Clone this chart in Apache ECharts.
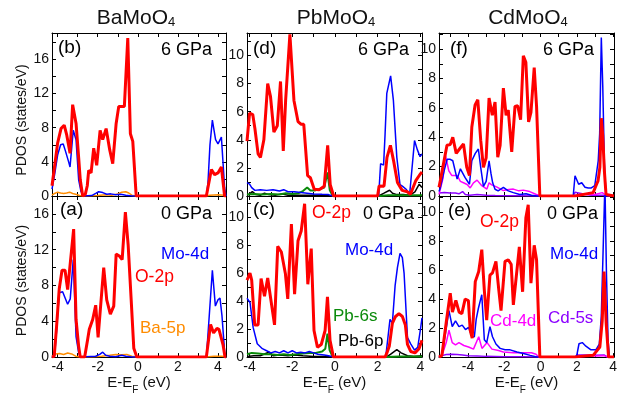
<!DOCTYPE html>
<html>
<head>
<meta charset="utf-8">
<script src="https://cdn.jsdelivr.net/npm/echarts@6/dist/echarts.min.js"></script>
<style>
  html, body { margin: 0; padding: 0; background: #fff; }
  #chart { width: 636px; height: 396px; }
</style>
</head>
<body>
<div id="chart"></div>
<script>
// ---- data: [E-EF (eV), PDOS (states/eV)] ----
// BaMoO4, 6 GPa
const baO6 = [[-4.28,1.2],[-4.15,3.5],[-4.0,6.2],[-3.83,7.9],[-3.67,8.3],[-3.55,7.2],[-3.38,5.0],[-3.25,10.7],[-3.08,8.5],[-2.95,4.5],[-2.87,1.9],[-2.75,0],[-2.62,0.2],[-2.52,1.2],[-2.45,3.0],[-2.33,2.7],[-2.2,5.6],[-2.05,3.6],[-1.88,7.7],[-1.75,6.6],[-1.58,7.9],[-1.4,5.4],[-1.25,3.8],[-1.08,8.5],[-0.95,10.5],[-0.83,10.5],[-0.67,10.5],[-0.5,18.5],[-0.37,7.3],[-0.25,6.4],[-0.08,0],[3.42,0],[3.67,3.1],[3.83,2.5],[4.0,2.7],[4.17,3.4],[4.33,0],[4.4,0]];
const baMo6 = [[-4.28,0.8],[-4.15,2.5],[-4.0,4.8],[-3.85,6.0],[-3.72,6.1],[-3.6,5.2],[-3.45,4.0],[-3.38,3.4],[-3.22,7.7],[-3.08,6.6],[-2.95,1.9],[-2.83,0.5],[-2.7,0],[-2.3,0.05],[-2.1,0.3],[-1.95,0.5],[-1.75,0.4],[-1.55,0.2],[-1.35,0.25],[-1.1,0.15],[-0.85,0.2],[-0.6,0.1],[-0.3,0],[3.42,0],[3.5,1.5],[3.6,6.0],[3.72,8.9],[3.88,6.6],[4.0,6.1],[4.17,6.9],[4.33,1.0],[4.4,0]];
const baBa6 = [[-4.28,0.1],[-4.15,0.3],[-4.0,0.45],[-3.85,0.35],[-3.7,0.3],[-3.55,0.35],[-3.4,0.45],[-3.25,0.3],[-3.1,0.2],[-2.9,0.05],[-2.7,0],[-2.0,0.05],[-1.6,0.15],[-1.3,0.1],[-1.0,0.25],[-0.8,0.45],[-0.6,0.5],[-0.45,0.35],[-0.3,0.1],[-0.1,0],[3.4,0],[3.6,0.1],[4.0,0.15],[4.3,0.1],[4.4,0]];
// BaMoO4, 0 GPa
const baO0 = [[-4.28,0],[-4.17,0.1],[-4.05,3.5],[-3.92,7.6],[-3.78,9.7],[-3.63,9.7],[-3.5,7.55],[-3.2,14.3],[-3.08,4.2],[-2.95,1.2],[-2.87,0],[-2.65,0],[-2.5,2.0],[-2.42,3.1],[-2.25,4.2],[-2.1,5.8],[-1.98,2.2],[-1.7,10.0],[-1.55,6.4],[-1.37,4.8],[-1.2,5.7],[-1.08,11.5],[-0.92,11.3],[-0.78,10.9],[-0.62,16.2],[-0.48,12.5],[-0.33,6.4],[-0.2,1.0],[-0.05,0],[3.42,0],[3.63,3.65],[3.78,2.7],[3.95,3.2],[4.05,3.1],[4.25,1.4],[4.35,0],[4.4,0]];
const baMo0 = [[-4.28,0],[-4.15,0.2],[-4.05,3.0],[-3.92,7.2],[-3.75,7.3],[-3.5,5.9],[-3.37,6.5],[-3.22,10.9],[-3.08,2.3],[-2.95,0.5],[-2.85,0],[-2.1,0.1],[-1.9,0.3],[-1.75,0.55],[-1.6,0.2],[-1.4,0.1],[-1.1,0.05],[-0.8,0.2],[-0.6,0.1],[-0.3,0],[3.42,0],[3.5,2.5],[3.72,9.7],[3.87,5.7],[4.0,6.4],[4.1,6.6],[4.2,4.6],[4.35,0],[4.4,0]];
const baBa0 = [[-4.28,0.05],[-4.1,0.35],[-3.9,0.4],[-3.7,0.3],[-3.5,0.45],[-3.3,0.35],[-3.1,0.1],[-2.9,0],[-2.2,0.05],[-1.8,0.1],[-1.4,0.2],[-1.1,0.3],[-0.8,0.25],[-0.55,0.3],[-0.3,0.1],[-0.1,0],[3.4,0],[3.8,0.1],[4.2,0.1],[4.4,0]];
// PbMoO4, 6 GPa
const pbO6 = [[-4.12,3.9],[-4.0,5.9],[-3.85,5.8],[-3.75,4.8],[-3.6,3.0],[-3.49,2.75],[-3.33,4.0],[-3.15,8.0],[-3.02,7.1],[-2.86,4.55],[-2.7,5.0],[-2.55,8.15],[-2.42,3.2],[-2.31,6.8],[-2.11,11.5],[-1.92,6.8],[-1.73,5.3],[-1.58,5.1],[-1.46,5.1],[-1.28,1.45],[-1.15,1.3],[-0.97,0.48],[-0.74,0.45],[-0.5,0.7],[-0.34,3.6],[-0.22,0.8],[-0.06,0],[2.0,0],[2.07,0.72],[2.3,0.7],[2.44,2.75],[2.6,3.6],[2.75,2.5],[2.93,0.96],[3.15,0.4],[3.39,0.3],[3.54,0.12],[3.79,1.1],[3.99,1.55],[4.08,1.7]];
const pbMo6 = [[-4.12,0.95],[-4.0,0.85],[-3.9,0.6],[-3.75,0.4],[-3.5,0.45],[-3.2,0.4],[-2.9,0.45],[-2.6,0.35],[-2.4,0.45],[-2.2,0.3],[-1.9,0.3],[-1.6,0.25],[-1.3,0.2],[-1.0,0.15],[-0.6,0.12],[-0.3,0.1],[-0.1,0],[2.05,0],[2.14,2.3],[2.28,2.2],[2.35,4.4],[2.43,7.3],[2.61,8.55],[2.74,6.8],[2.9,2.75],[3.05,0.8],[3.16,0.7],[3.35,0.46],[3.5,0.1],[3.73,3.95],[3.86,3.3],[3.99,2.8],[4.08,3.0]];
const pbS6 = [[-4.12,0.1],[-3.8,0.15],[-3.4,0.1],[-3.0,0.15],[-2.6,0.1],[-2.3,0.2],[-2.0,0.15],[-1.7,0.2],[-1.5,0.35],[-1.3,0.6],[-1.15,0.4],[-0.92,0.4],[-0.7,0.5],[-0.5,0.6],[-0.35,1.68],[-0.24,0.4],[-0.1,0],[2.1,0],[2.5,0.05],[3.0,0.05],[4.08,0.05]];
const pbP6 = [[-4.12,0.05],[-4.0,0.15],[-3.87,0.31],[-3.7,0.1],[-3.5,0.05],[-3.3,0.2],[-3.1,0.1],[-2.8,0.05],[-2.5,0.15],[-2.2,0.05],[-1.8,0.05],[-1.2,0.05],[-0.5,0.05],[-0.1,0],[2.05,0],[2.3,0.2],[2.56,0.41],[2.7,0.2],[2.9,0.1],[3.2,0.1],[3.5,0.05],[3.75,0.3],[3.95,0.84],[4.08,0.6]];
// PbMoO4, 0 GPa
const pbO0 = [[-4.12,5.5],[-4.06,5.7],[-3.98,6.0],[-3.9,5.5],[-3.76,2.3],[-3.6,2.3],[-3.46,5.6],[-3.3,4.35],[-3.15,5.65],[-2.83,2.3],[-2.68,7.9],[-2.51,7.5],[-2.32,5.95],[-2.21,4.15],[-2.04,9.5],[-1.89,4.5],[-1.73,8.3],[-1.58,9.0],[-1.42,10.95],[-1.27,5.2],[-1.11,7.75],[-0.98,1.9],[-0.82,0.7],[-0.64,0.9],[-0.46,1.9],[-0.35,4.3],[-0.23,1.2],[-0.07,0],[2.35,0],[2.45,0.36],[2.55,0.8],[2.69,2.4],[2.84,2.9],[3.0,3.1],[3.16,2.9],[3.3,2.3],[3.4,0.9],[3.55,0.4],[3.75,0.3],[3.94,0.6],[4.08,1.2]];
const pbMo0 = [[-4.12,4.2],[-4.06,4.1],[-3.98,3.9],[-3.83,2.1],[-3.64,0.95],[-3.4,0.6],[-3.2,0.45],[-3.0,0.3],[-2.8,0.4],[-2.6,0.3],[-2.4,0.45],[-2.2,0.3],[-2.0,0.45],[-1.8,0.3],[-1.6,0.35],[-1.4,0.3],[-1.2,0.4],[-1.0,0.3],[-0.8,0.2],[-0.5,0.15],[-0.3,0.1],[-0.05,0],[2.38,0],[2.58,2.7],[2.69,2.4],[2.82,5.1],[2.93,6.4],[3.05,7.4],[3.16,7.1],[3.24,6.0],[3.4,1.4],[3.55,0.95],[3.73,0.5],[3.88,0.7],[4.0,1.9],[4.08,2.8]];
const pbS0 = [[-4.12,0.2],[-3.9,0.3],[-3.6,0.25],[-3.3,0.2],[-3.0,0.2],[-2.7,0.15],[-2.4,0.2],[-2.1,0.15],[-1.8,0.2],[-1.5,0.25],[-1.2,0.3],[-0.9,0.3],[-0.6,0.4],[-0.45,0.6],[-0.35,1.67],[-0.25,0.5],[-0.1,0],[2.4,0],[3.0,0.05],[4.08,0.05]];
const pbP0 = [[-4.12,0.05],[-3.8,0.1],[-3.5,0.1],[-3.1,0.35],[-2.9,0.1],[-2.6,0.15],[-2.2,0.1],[-1.9,0.15],[-1.5,0.1],[-1.0,0.05],[-0.5,0.05],[-0.1,0],[2.4,0],[2.6,0.2],[2.9,0.53],[3.1,0.3],[3.4,0.1],[3.7,0.05],[4.08,0.1]];
// CdMoO4, 6 GPa
const cdO6 = [[-5.6,0.6],[-5.53,1.03],[-5.16,3.45],[-4.98,3.5],[-4.84,4.0],[-4.65,2.9],[-4.47,3.2],[-4.25,3.55],[-4.07,1.95],[-3.92,1.4],[-3.79,4.7],[-3.61,6.2],[-3.46,6.55],[-3.3,3.8],[-3.15,1.95],[-3.0,2.6],[-2.84,6.67],[-2.66,5.5],[-2.51,6.4],[-2.36,2.65],[-2.23,3.45],[-2.05,7.35],[-1.9,5.5],[-1.78,5.85],[-1.59,3.0],[-1.41,6.1],[-1.26,6.15],[-1.1,5.2],[-0.95,9.55],[-0.81,9.1],[-0.66,5.05],[-0.53,5.7],[-0.35,8.75],[-0.22,6.1],[-0.04,0],[1.9,0],[2.0,0.12],[2.9,0.23],[3.09,0.8],[3.17,1.03],[3.27,1.95],[3.35,5.3],[3.43,4.1],[3.52,1.7],[3.61,0.1],[3.7,0],[4.05,0]];
const cdMo6 = [[-5.6,0.3],[-5.53,0.55],[-5.3,1.8],[-5.15,2.5],[-4.98,2.5],[-4.84,2.4],[-4.6,1.15],[-4.42,1.85],[-4.16,1.25],[-3.92,0.8],[-3.79,2.4],[-3.6,2.9],[-3.43,3.2],[-3.3,1.95],[-3.15,0.65],[-3.0,1.0],[-2.84,2.4],[-2.73,1.5],[-2.64,0.9],[-2.51,0.46],[-2.34,0.35],[-2.05,0.58],[-1.78,0.35],[-1.5,0.23],[-1.15,0.1],[-0.8,0.15],[-0.5,0.05],[-0.2,0],[1.8,0],[1.9,1.38],[2.1,0.8],[2.27,0.9],[2.45,0.6],[2.63,0.55],[2.8,0.55],[2.99,0.7],[3.18,2.4],[3.26,4.25],[3.35,10.8],[3.43,7.5],[3.52,2.2],[3.61,0],[4.05,0]];
const cdD6 = [[-5.6,0.1],[-5.53,0.2],[-5.38,1.2],[-5.24,2.75],[-5.06,1.72],[-4.9,1.4],[-4.79,1.3],[-4.6,1.4],[-4.42,1.0],[-4.25,0.9],[-4.05,0.78],[-3.88,0.55],[-3.7,0.9],[-3.5,1.08],[-3.24,0.7],[-2.96,0.47],[-2.84,0.9],[-2.69,0.76],[-2.4,0.6],[-2.05,0.37],[-1.75,0.45],[-1.5,0.47],[-1.2,0.35],[-0.95,0.4],[-0.6,0.3],[-0.23,0.1],[0,0],[1.8,0],[2.2,0.1],[3.0,0.1],[3.4,0.23],[3.6,0.05],[4.05,0]];
const cdS6 = [[-5.6,0.2],[-5.3,0.23],[-5.0,0.2],[-4.7,0.2],[-4.5,0.15],[-4.3,0.3],[-4.15,0.1],[-3.9,0.05],[-3.5,0.1],[-3.0,0.05],[-2.5,0.03],[-1.5,0.02],[0,0],[1.8,0],[1.9,0.25],[2.3,0.15],[2.8,0.05],[3.4,0.05],[4.05,0]];
// CdMoO4, 0 GPa
const cdO0 = [[-5.6,0],[-5.44,0.12],[-5.2,2.4],[-4.98,4.4],[-4.86,3.1],[-4.67,3.9],[-4.49,3.1],[-4.34,3.0],[-4.16,4.0],[-3.98,3.9],[-3.88,1.85],[-3.77,1.3],[-3.6,5.2],[-3.41,5.9],[-3.24,7.4],[-3.1,4.6],[-2.97,2.55],[-2.79,5.65],[-2.65,5.8],[-2.46,6.6],[-2.3,4.6],[-2.18,3.2],[-1.96,6.6],[-1.78,6.7],[-1.62,6.4],[-1.5,3.6],[-1.17,7.6],[-0.99,4.5],[-0.81,9.6],[-0.68,10.5],[-0.53,5.1],[-0.35,7.7],[-0.22,6.7],[-0.04,0],[1.9,0],[2.2,0.05],[2.9,0.12],[3.27,0.7],[3.4,2.5],[3.5,5.9],[3.62,2.3],[3.75,0],[4.05,0]];
const cdMo0 = [[-5.6,0],[-5.44,0.1],[-5.2,2.0],[-5.05,3.2],[-4.87,2.1],[-4.69,2.5],[-4.5,2.1],[-4.32,2.2],[-4.14,1.9],[-3.97,2.05],[-3.78,1.4],[-3.65,1.4],[-3.55,2.6],[-3.43,3.35],[-3.24,4.3],[-3.1,1.2],[-2.97,1.0],[-2.79,2.1],[-2.65,1.4],[-2.46,0.9],[-2.23,0.6],[-1.96,0.5],[-1.68,0.5],[-1.3,0.35],[-0.94,0.25],[-0.57,0.12],[-0.2,0],[1.98,0],[2.12,0.92],[2.3,1.0],[2.5,0.75],[2.78,0.5],[3.05,0.5],[3.24,0.9],[3.35,2.8],[3.44,6.9],[3.55,12],[3.63,6.0],[3.72,1.2],[3.8,0],[4.05,0]];
const cdD0 = [[-5.6,0],[-5.44,0.1],[-5.2,1.0],[-5.05,1.85],[-4.87,1.0],[-4.69,0.85],[-4.5,1.0],[-4.23,0.8],[-3.97,0.7],[-3.7,0.55],[-3.41,1.4],[-3.23,0.6],[-2.95,1.0],[-2.68,0.55],[-2.32,0.45],[-2.05,0.35],[-1.5,0.3],[-1.12,0.3],[-0.5,0.3],[-0.25,0.2],[-0.1,0],[1.9,0],[2.5,0.05],[3.5,0.1],[3.7,0],[4.05,0]];
const cdS0 = [[-5.6,0],[-5.44,0.1],[-5.2,0.18],[-4.9,0.2],[-4.6,0.18],[-4.3,0.15],[-4.0,0.1],[-3.5,0.08],[-3.0,0.05],[-2.0,0.03],[-1.0,0.02],[0,0],[1.9,0],[2.0,0.15],[2.5,0.15],[3.0,0.12],[3.5,0.15],[3.7,0],[4.05,0]];

// tick / label values
const xLabels = [-4, -2, 0, 2, 4];
const xTicksBa = [-4, -3, -2, -1, 0, 1, 2, 3, 4];
const xTicksCd = [-5, -4, -3, -2, -1, 0, 1, 2, 3, 4];
const yLabelsBa = [0, 4, 8, 12, 16];
const yTicksBa = [0, 2, 4, 6, 8, 10, 12, 14, 16, 18];
const yLabels = [0, 2, 4, 6, 8, 10];
const yTicks = [0, 1, 2, 3, 4, 5, 6, 7, 8, 9, 10, 11];

const RED = "#ff0000", BLUE = "#0000ff", ORANGE = "#ff8c00", GREEN = "#0a8a0a",
  BLACK = "#000000", MAGENTA = "#ff00ff", VIOLET = "#8b00ff";
const FONT = '"Liberation Sans", Arial, sans-serif';

const panels = [
  { left: 52, top: 33, width: 174, height: 163, xMin: -4.28, xMax: 4.4, yMax: 19.1,
    xTicks: xTicksBa, yLab: yLabelsBa, yTk: yTicksBa, bottom: false, yName: true, namePad: 11,
    lines: [[baBa6, ORANGE, 1.5], [baMo6, BLUE, 1.5], [baO6, RED, 3]] },
  { left: 52, top: 196, width: 174, height: 162, xMin: -4.28, xMax: 4.4, yMax: 18,
    xTicks: xTicksBa, yLab: yLabelsBa, yTk: yTicksBa.slice(0, -1), bottom: true, yName: true, namePad: 8,
    lines: [[baBa0, ORANGE, 1.5], [baMo0, BLUE, 1.5], [baO0, RED, 3]] },
  { left: 247, top: 33, width: 175, height: 163, xMin: -4.12, xMax: 4.08, yMax: 11.6,
    xTicks: xTicksBa, yLab: yLabels, yTk: yTicks, bottom: false,
    lines: [[pbP6, BLACK, 1.5], [pbS6, GREEN, 2], [pbMo6, BLUE, 1.5], [pbO6, RED, 3]] },
  { left: 247, top: 196, width: 175, height: 162, xMin: -4.12, xMax: 4.08, yMax: 11.5,
    xTicks: xTicksBa, yLab: yLabels, yTk: yTicks, bottom: true,
    lines: [[pbP0, BLACK, 1.5], [pbS0, GREEN, 2], [pbMo0, BLUE, 1.5], [pbO0, RED, 3]] },
  { left: 439, top: 33, width: 175, height: 163, xMin: -5.6, xMax: 4.05, yMax: 11.1,
    xTicks: xTicksCd, yLab: yLabels, yTk: yTicks, bottom: false,
    lines: [[cdS6, VIOLET, 1.5], [cdD6, MAGENTA, 1.5], [cdMo6, BLUE, 1.5], [cdO6, RED, 3]] },
  { left: 439, top: 196, width: 175, height: 162, xMin: -5.6, xMax: 4.05, yMax: 11.1,
    xTicks: xTicksCd, yLab: yLabels, yTk: yTicks, bottom: true,
    lines: [[cdS0, VIOLET, 1.5], [cdD0, MAGENTA, 1.5], [cdMo0, BLUE, 1.5], [cdO0, RED, 3]] },
];

const grid = [], xAxis = [], yAxis = [], series = [];
const axisLine = { show: true, onZero: false, lineStyle: { color: "#000", width: 1 } };
const tick = (vals) => ({ show: true, inside: true, length: 4, customValues: vals, lineStyle: { color: "#000" } });
const tickText = { color: "#111", fontSize: 14, fontFamily: FONT };

panels.forEach((p, i) => {
  grid.push({ left: p.left, top: p.top, width: p.width, height: p.height });
  xAxis.push({
    type: "value", gridIndex: i, position: "bottom", min: p.xMin, max: p.xMax,
    axisLine, axisTick: tick(p.xTicks), splitLine: { show: false },
    axisLabel: Object.assign({ show: p.bottom, customValues: xLabels, margin: 3 }, tickText),
    name: p.bottom ? "{a|E-E}{s|F}{a| (eV)}" : "",
    nameLocation: "middle", nameGap: 11,
    nameTextStyle: { rich: {
      a: { fontSize: 15, lineHeight: 16, color: "#111", fontFamily: FONT, verticalAlign: "top" },
      s: { fontSize: 10, lineHeight: 10, padding: [10, 0, 0, 0], color: "#111", fontFamily: FONT, verticalAlign: "top" },
    } },
  });
  xAxis.push({
    type: "value", gridIndex: i, position: "top", min: p.xMin, max: p.xMax,
    axisLine, axisTick: tick(p.xTicks), axisLabel: { show: false }, splitLine: { show: false },
  });
  yAxis.push({
    type: "value", gridIndex: i, position: "left", min: 0, max: p.yMax,
    axisLine, axisTick: tick(p.yTk), splitLine: { show: false },
    axisLabel: Object.assign({ customValues: p.yLab, margin: 3 }, tickText),
    name: p.yName ? "PDOS (states/eV)" : "", nameLocation: "middle", nameGap: 22,
    nameTextStyle: { fontSize: 14, color: "#111", fontFamily: FONT, padding: [0, p.namePad || 0, 0, 0] },
  });
  yAxis.push({
    type: "value", gridIndex: i, position: "right", min: 0, max: p.yMax,
    axisLine, axisTick: tick(p.yTk), axisLabel: { show: false }, splitLine: { show: false },
  });
  p.lines.forEach(([data, color, width]) => {
    series.push({
      type: "line", xAxisIndex: 2 * i, yAxisIndex: 2 * i, data,
      showSymbol: false, symbol: "none", silent: true,
      lineStyle: { color, width }, itemStyle: { color },
    });
  });
});

// titles and in-panel annotations: [text, left, centre y, colour, size]
const notes = [
  ["(b)", 58, 48, BLACK, 19], ["6 GPa", 161, 50, BLACK, 18],
  ["(d)", 253, 49, BLACK, 19], ["6 GPa", 358, 50, BLACK, 18],
  ["(f)", 450, 49, BLACK, 19], ["6 GPa", 543, 50, BLACK, 18],
  ["(a)", 60, 210, BLACK, 19], ["0 GPa", 161, 214, BLACK, 18],
  ["Mo-4d", 161, 254, BLUE, 17], ["O-2p", 135, 277, RED, 17.5], ["Ba-5p", 140, 328, ORANGE, 17],
  ["(c)", 253, 210, BLACK, 19], ["O-2p", 312, 213, RED, 17.5], ["0 GPa", 363, 214, BLACK, 18],
  ["Mo-4d", 345, 250, BLUE, 17], ["Pb-6s", 333, 316, GREEN, 17], ["Pb-6p", 338, 341, BLACK, 17],
  ["(e)", 448, 211, BLACK, 19], ["O-2p", 480, 222, RED, 17.5], ["0 GPa", 547, 214, BLACK, 18],
  ["Mo-4d", 550, 254, BLUE, 17], ["Cd-4d", 490, 321, MAGENTA, 17], ["Cd-5s", 548, 318, VIOLET, 17],
];
const compounds = [["BaMoO", 136], ["PbMoO", 336], ["CdMoO", 528]];

const title = compounds.map(([name, cx]) => ({
  text: "{a|" + name + "}{s|4}", left: cx, top: 5, textAlign: "center", padding: 0,
  textStyle: { fontWeight: "normal", rich: {
    a: { fontSize: 21, lineHeight: 24, fontWeight: "normal", color: "#111", fontFamily: FONT, verticalAlign: "bottom" },
    s: { fontSize: 13, lineHeight: 6, fontWeight: "normal", color: "#111", fontFamily: FONT, verticalAlign: "bottom" },
  } },
})).concat(notes.map(([text, x, cy, color, fs]) => ({
  text, left: x, top: cy - fs / 2, padding: 0,
  textStyle: { fontSize: fs, lineHeight: fs, color, fontWeight: "normal", fontFamily: FONT },
})));

const chart = echarts.init(document.getElementById("chart"));
chart.setOption({
  animation: false,
  backgroundColor: "#fff",
  title, grid, xAxis, yAxis, series,
});
</script>
</body>
</html>
